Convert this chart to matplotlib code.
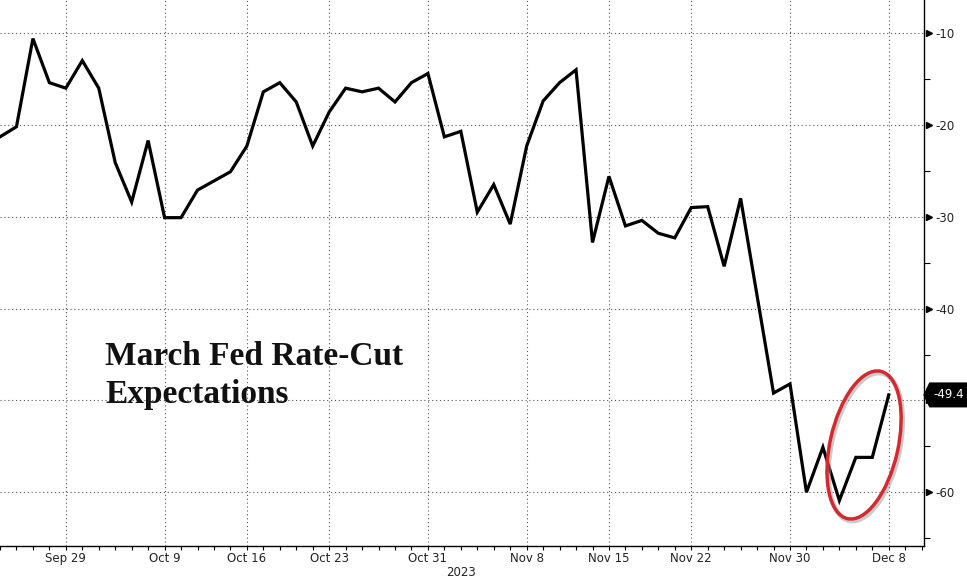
import matplotlib
matplotlib.use("Agg")
import matplotlib.pyplot as plt
import matplotlib.transforms as mtransforms
from matplotlib.patches import Ellipse, Polygon
from matplotlib.ticker import FixedLocator, FuncFormatter
import pandas as pd

# ---- data ----
dates = pd.bdate_range("2023-09-25", "2023-12-08")
values = [
    -21.3, -20.2, -10.6, -15.4, -16.0,   # Sep 25-29
    -13.0, -16.0, -24.1, -28.4, -21.7,   # Oct 2-6
    -30.1, -30.1, -27.1, -26.1, -25.1,   # Oct 9-13
    -22.3, -16.4, -15.4, -17.5, -22.3,   # Oct 16-20
    -18.6, -16.0, -16.4, -16.0, -17.5,   # Oct 23-27
    -15.4, -14.4, -21.3, -20.7, -29.5,   # Oct 30-Nov 3
    -26.5, -30.8, -22.3, -17.4, -15.4,   # Nov 6-10
    -14.0, -32.8, -25.6, -31.0, -30.4,   # Nov 13-17
    -31.8, -32.3, -29.0, -28.9, -35.4,   # Nov 20-24
    -28.0, -38.6, -49.2, -48.2, -60.0,   # Nov 27-Dec 1
    -55.1, -60.9, -56.2, -56.2, -49.4,   # Dec 4-8
]
tick_dates = ["2023-09-29", "2023-10-09", "2023-10-16", "2023-10-23", "2023-10-31",
              "2023-11-08", "2023-11-15", "2023-11-22", "2023-11-30", "2023-12-08"]
tick_labels = ["Sep 29", "Oct 9", "Oct 16", "Oct 23", "Oct 31",
               "Nov 8", "Nov 15", "Nov 22", "Nov 30", "Dec 8"]
y_major = [-10, -20, -30, -40, -50, -60]
y_hidden = [-50]  # covered by the last-value tag
y_minor = [-15, -25, -35, -45, -55, -65]
title_lines = ["March Fed Rate-Cut", "Expectations"]
last_label = "-49.4"
year_label = "2023"

plt.rcParams["axes.unicode_minus"] = False

W, H = 967, 580
fig = plt.figure(figsize=(W / 100, H / 100), dpi=100)
ax = fig.add_axes([0, 1 - 546 / H, 924.3 / W, 546 / H])

x = list(range(len(values)))
ax.plot(x, values, color="black", lw=2.3, solid_joinstyle="miter", zorder=3)

ax.set_xlim(0, 56.16)
ax.set_ylim(-65.85, -6.4)

# x ticks
date_index = {d.strftime("%Y-%m-%d"): i for i, d in enumerate(dates)}
tick_pos = [date_index[d] for d in tick_dates]
ax.xaxis.set_major_locator(FixedLocator(tick_pos))
ax.set_xticklabels(tick_labels)
ax.xaxis.set_minor_locator(FixedLocator([i for i in range(-1, 58)]))
ax.tick_params(axis="x", which="both", direction="out", length=3, width=0.8,
               color="black", labelsize=8.5, labelcolor="#222222", pad=1)

# y ticks on the right
ax.yaxis.tick_right()
ax.yaxis.set_major_locator(FixedLocator(y_major))
ax.yaxis.set_minor_locator(FixedLocator(y_minor))
ax.yaxis.set_major_formatter(
    FuncFormatter(lambda v, p: "" if round(v) in y_hidden else "%d" % v))
ax.tick_params(axis="y", which="major", length=0, pad=8, labelsize=8.5,
               labelcolor="#222222")
ax.tick_params(axis="y", which="minor", length=4, width=0.8, color="black",
               direction="out")

# triangle tick markers at the spine
blend = mtransforms.blended_transform_factory(ax.transAxes, ax.transData)
ax.plot([1 + 4.5 / 924.3] * len(y_major), y_major, ls="none", marker=">",
        ms=5, color="black", transform=blend, clip_on=False, zorder=5)

for s in ["left", "top"]:
    ax.spines[s].set_visible(False)
ax.spines["right"].set_linewidth(1.0)
ax.spines["bottom"].set_linewidth(1.0)

ax.grid(True, which="major", color="#555555", lw=0.8, linestyle=(0, (1, 2.5)))

# title text
for line, ybase in zip(title_lines, [365, 403]):
    ax.text(105 / 924.3, (546 - ybase) / 546, line, transform=ax.transAxes,
            family="Liberation Serif", fontweight="bold", fontsize=24,
            color="#111111", ha="left", va="baseline")

# year label
ax.text(date_index["2023-11-02"], -0.048, year_label,
        transform=mtransforms.blended_transform_factory(ax.transData, ax.transAxes),
        ha="center", va="center", fontsize=8.5, color="#222222")

# last value label: black tag with pointed left edge
fig.canvas.draw()
_, ly = ax.transData.transform((0, values[-1]))
x0 = ax.transAxes.transform((1, 0))[0]
tag = Polygon([(x0 - 1, ly), (x0 + 5, ly + 12.5), (W + 2, ly + 12.5),
               (W + 2, ly - 12.5), (x0 + 5, ly - 12.5)], closed=True,
              fc="black", ec="none", transform=None, zorder=6)
fig.add_artist(tag)
fig.text((x0 + 9) / W, ly / H, last_label, ha="left", va="center",
         fontsize=8.5, color="white", zorder=7)

# red ellipse (pixel units)
cx, cy = ax.transData.transform((date_index["2023-12-06"] + 0.5, -54.85))
shadow = Ellipse((cx + 1.5, cy - 2), 68, 151, angle=-12.7, fill=False,
                 ec="#999999", lw=3.5, alpha=0.5, transform=None, zorder=6)
ell = Ellipse((cx, cy), 68, 151, angle=-12.7, fill=False, ec="#d42a2e",
              lw=2.5, transform=None, zorder=7)
fig.add_artist(shadow)
fig.add_artist(ell)

fig.savefig("out.png", dpi=100)
